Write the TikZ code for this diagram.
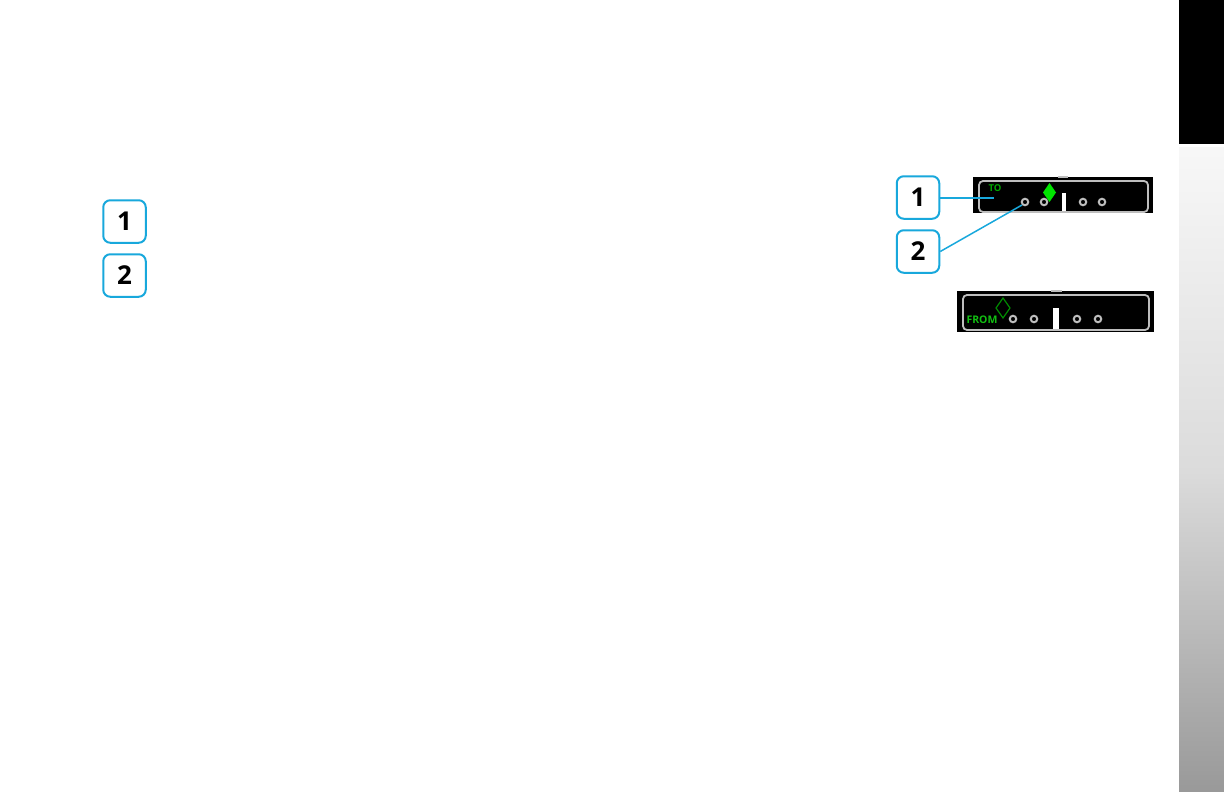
\documentclass[tikz,border=0pt]{standalone}
\usepackage{fontspec}
\setmainfont{Open Sans}
\usetikzlibrary{shapes.geometric}
\definecolor{cal}{HTML}{18A8DC}
\definecolor{bez}{HTML}{BEBEBE}
\definecolor{grn}{HTML}{12C012}
\tikzset{
  badge/.style={draw=cal,line width=2pt,rounded corners=7pt,fill=white,minimum width=42.5pt,minimum height=42.5pt,inner sep=0pt,font=\fontsize{26}{26}\selectfont\bfseries,text=black},
  leader/.style={draw=cal,line width=1.5pt},
  screen/.style={fill=black,draw=none},
  bezel/.style={draw=bez,line width=1.8pt,rounded corners=4pt},
  dot/.style={circle,draw=bez,line width=2pt,minimum size=6.5pt,inner sep=0pt,fill=black},
  needle/.style={fill=white,draw=none},
  lab/.style={text=grn,inner sep=0pt,font=\fontsize{10.5}{10.5}\selectfont\bfseries},
}
\begin{document}
\begin{tikzpicture}[x=1pt,y=-1pt]
\useasboundingbox (0,0) rectangle (1224,792);
% side tab
\fill[black] (1179,0) rectangle (1224,144);
\shade[top color=black!3,bottom color=black!40,middle color=black!14] (1179,147) rectangle (1224,792);
% left legend
\node[badge] (a1) at (124.5,221.5) {1};
\node[badge] (a2) at (124.5,275.5) {2};
% top instrument
\fill[screen] (973,177) rectangle (1153,213);
\fill[bez] (1058,175.5) rectangle (1068,178);
\draw[bezel] (979,181) rectangle (1148,212);
\node[lab,font=\fontsize{9.5}{9.5}\selectfont\bfseries,text=green!65!black] (to) at (995,188) {TO};
\node[dot] (d1) at (1025,202) {};
\node[dot] (d2) at (1044,202) {};
\node[dot] (d3) at (1083,202) {};
\node[dot] (d4) at (1102,202) {};
\fill[needle] (1062,193) rectangle (1066,211);
\fill[green!90!black] (1049.5,183) -- (1056,192.5) -- (1049.5,202) -- (1043,192.5) -- cycle;
\node[badge] (b1) at (918,197.5) {1};
\node[badge] (b2) at (918,251.5) {2};
\coordinate (p1) at (994,198);
\draw[leader] (b1.east |- p1) -- (p1);
\draw[leader] (b2.east) -- (d1.south west);
% bottom instrument
\fill[screen] (957,291) rectangle (1154,332);
\fill[bez] (1051,289.5) rectangle (1062,292);
\draw[bezel] (963,295) rectangle (1149,330);
\node[dot] (e1) at (1013,319) {};
\node[dot] (e2) at (1034,319) {};
\node[dot] (e3) at (1077,319) {};
\node[dot] (e4) at (1098,319) {};
\fill[needle] (1053,308) rectangle (1059,329);
\draw[green!55!black,line width=1.2pt] (1003,298) -- (1010,308) -- (1003,318) -- (996,308) -- cycle;
\node[lab] (from) at (982,320) {FROM};
\end{tikzpicture}
\end{document}
